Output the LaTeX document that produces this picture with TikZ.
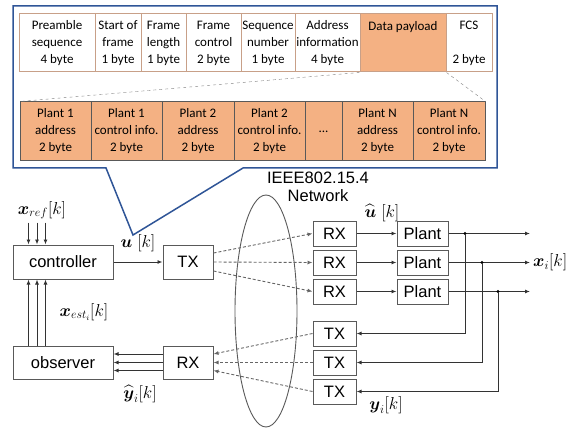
\documentclass[tikz,border=0pt]{standalone}
\usepackage{amsmath}
\usepackage{amssymb}
\usepackage{fontspec}
\setmainfont{Liberation Sans}
\newfontfamily\calfont{Carlito}
\usetikzlibrary{arrows.meta,positioning,calc}
\definecolor{frameblue}{HTML}{2F5597}
\definecolor{payload}{HTML}{F4B183}
\definecolor{cellline}{HTML}{C8A088}
\definecolor{boxline}{HTML}{595959}
\tikzset{
    field-cell/.style = {draw=cellline, line width=1pt, rectangle, inner sep=0pt, minimum height=58pt, align=center, font=\calfont\fontsize{13}{17}\selectfont},
    sub-cell/.style = {draw=boxline, fill=payload, line width=1pt, rectangle, inner sep=0pt, minimum height=59pt, align=center, font=\calfont\fontsize{13}{17}\selectfont},
    block/.style = {draw=boxline, line width=1pt, rectangle, inner sep=0pt, font=\fontsize{16.5}{19}\selectfont},
    radio/.style = {gray!80!black, densely dashed, line width=0.9pt},
    wire/.style = {black!80, line width=0.9pt},
    signal/.style = {font=\fontsize{17}{19}\selectfont, inner sep=0pt},
}

\begin{document}
\begin{tikzpicture}[x=1pt, y=-1pt, >={Latex[length=5pt,width=4pt]}]
\useasboundingbox (0,0) rectangle (588,430);

% callout frame
\draw[frameblue, line width=1.5pt] (13,6) -- (497,6) -- (497,168) -- (243,168) -- (133,235) -- (106,168) -- (13,168) -- cycle;

% frame fields
\foreach \a/\b/\txt/\nm in {19/95/{Preamble\\sequence\\4 byte}/pre, 95/141/{Start of\\frame\\1 byte}/sof, 141/186/{Frame\\length\\1 byte}/len, 186/241/{Frame\\control\\2 byte}/fctl, 241/295/{Sequence\\number\\1 byte}/seq, 295/360/{Address\\information\\4 byte}/addr, 446/492/{FCS\\\strut\\2 byte}/fcs}
    \node[field-cell, minimum width={(\b-\a)*1pt}] (\nm) at ({(\a+\b)/2},43) {\txt};
\node[field-cell, fill=payload, minimum width=86pt] (data) at (403,43) {};
\node[font=\calfont\fontsize{13}{17}\selectfont] (datatxt) at (data.center |- 0,27) {Data payload};

% payload contents
\foreach \a/\b/\txt/\nm in {20/91/{Plant 1\\address\\2 byte}/padA, 91/162/{Plant 1\\control info.\\2 byte}/pctA, 162/234/{Plant 2\\address\\2 byte}/padB, 234/305/{Plant 2\\control info.\\2 byte}/pctB, 305/342/{...}/pdots, 342/413/{Plant N\\address\\2 byte}/padN, 413/485/{Plant N\\control info.\\2 byte}/pctN}
    \node[sub-cell, minimum width={(\b-\a)*1pt}] (\nm) at ({(\a+\b)/2},131.5) {\txt};
\draw[gray, dashed, thin] (data.south west) -- (padA.north west);
\draw[gray, dashed, thin] (data.south east) -- (pctN.north east);

% control loop
\node[block, minimum width=100pt, minimum height=34pt] (ctrl) at (63,262) {controller};
\node[block, minimum width=50pt, minimum height=34pt] (txc) at (188,262) {TX};
\node[block, minimum width=100pt, minimum height=33pt] (obs) at (63,362.5) {observer};
\node[block, minimum width=50pt, minimum height=33pt] (rxo) at (188,362.5) {RX};

\draw[gray!70!black, line width=0.9pt] (266,311) ellipse (31 and 116);
\node[font=\fontsize{16.5}{18.5}\selectfont, align=center] (net) at (318,187) {IEEE802.15.4\\Network};

\foreach \i/\y in {1/233.5, 2/262.5, 3/291.5} {
    \node[block, minimum width=43pt, minimum height=25pt] (rx\i) at (334.5,\y) {RX};
    \node[block, minimum width=51pt, minimum height=25pt] (pl\i) at (422.5,\y) {Plant};
    \draw[wire, ->] (rx\i) -- (pl\i);
    \coordinate (out\i) at (530,\y);
    \draw[wire, ->] (pl\i) -- (out\i);
}
\foreach \i/\y in {1/333.5, 2/362.5, 3/391.5}
    \node[block, minimum width=43pt, minimum height=25pt] (tx\i) at (334.5,\y) {TX};

% measurement branches
\foreach \i/\x in {1/465, 2/482, 3/498} {
    \coordinate (br\i) at (\x,0 |- pl\i.east);
    \fill (br\i) circle (1.6pt);
    \draw[wire, ->] (br\i) |- (tx\i.east);
}

% radio links
\foreach \i/\dy in {1/-9, 2/0, 3/9}
    \draw[radio, ->] ($(txc.east)+(0,\dy)$) -- (rx\i.west);
\foreach \i/\dy in {1/-8.5, 2/0, 3/8}
    \draw[radio, ->] (tx\i.west) -- ($(rxo.east)+(0,\dy)$);

% wired links
\draw[wire, ->] (ctrl) -- (txc);
\foreach \dy in {-8.5, 0, 8}
    \draw[wire, ->] ($(rxo.west)+(0,\dy)$) -- ($(obs.east)+(0,\dy)$);
\foreach \dx in {16, 24.5, 33} {
    \draw[wire, ->] ($(ctrl.north west)+(\dx,-22)$) -- ($(ctrl.north west)+(\dx,0)$);
    \draw[wire, ->] ($(obs.north west)+(\dx,0)$) -- ($(ctrl.south west)+(\dx,0)$);
}

% signal labels
\node[signal] (xref) at (42,210) {$\boldsymbol{x}_{ref}[k]$};
\node[signal] (ulab) at (138,243) {$\boldsymbol{u}\;[k]$};
\node[signal] (xest) at (84,312) {$\boldsymbol{x}_{est_i}[k]$};
\node[signal] (yhat) at (140,394) {$\widehat{\boldsymbol{y}}_i[k]$};
\node[signal] (uhat) at (382,213) {$\widehat{\boldsymbol{u}}\;[k]$};
\node[signal, anchor=west] (xi) at (533,262.5) {$\boldsymbol{x}_i[k]$};
\node[signal] (yi) at (386,405) {$\boldsymbol{y}_i[k]$};
\end{tikzpicture}
\end{document}
